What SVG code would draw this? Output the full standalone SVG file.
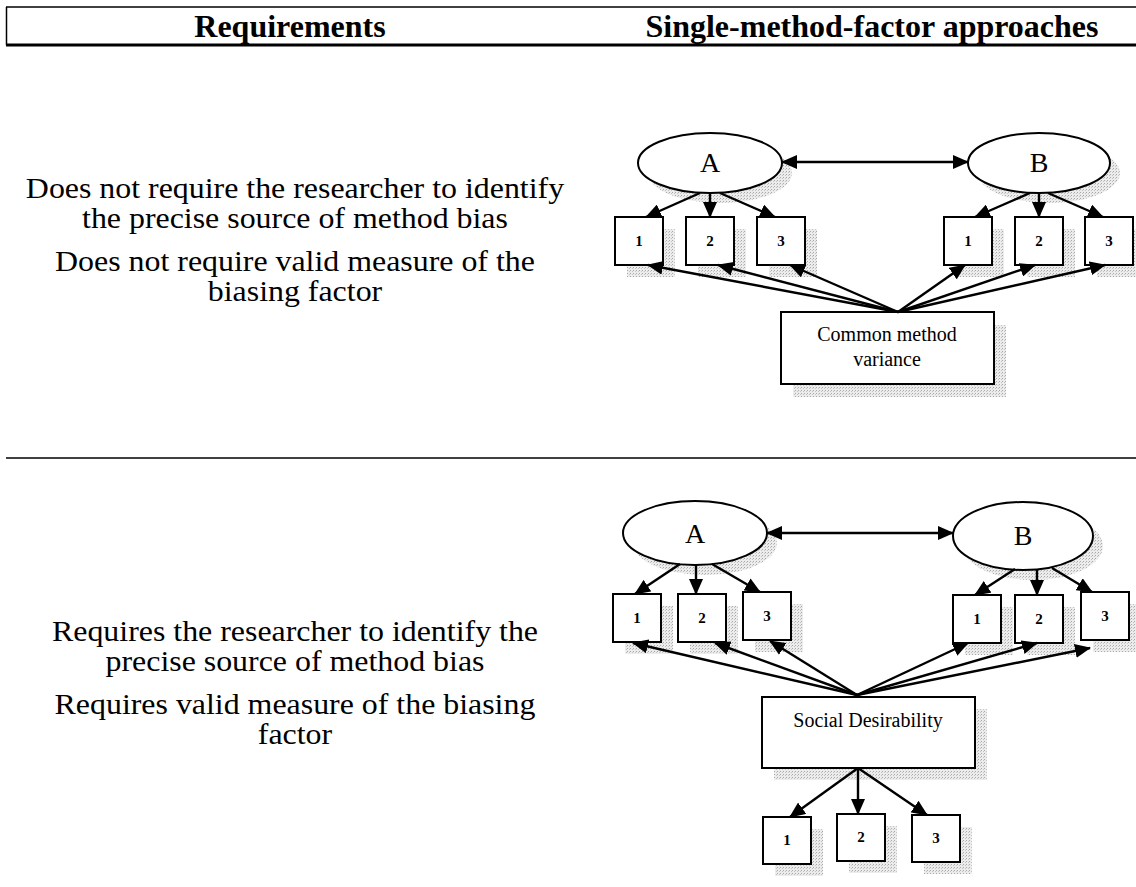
<svg xmlns="http://www.w3.org/2000/svg" width="1136" height="887" viewBox="0 0 1136 887">
  <defs>
    <!-- stippled grey used for drop shadows -->
    <pattern id="stipple" width="3" height="3" patternUnits="userSpaceOnUse">
      <rect width="3" height="3" fill="#ececec"/>
      <rect x="0" y="0" width="1" height="1" fill="#a8a8a8"/>
      <rect x="2" y="1" width="1" height="1" fill="#c4c4c4"/>
    </pattern>
    <marker id="ah" markerUnits="userSpaceOnUse" markerWidth="16" markerHeight="14" refX="15" refY="7" orient="auto-start-reverse">
      <path d="M0,0 L16,7 L0,14 z" fill="#000"/>
    </marker>
  </defs>
  <style>
    .shadow { fill: url(#stipple); }
    .node rect, .node ellipse { fill: #fff; stroke: #000; stroke-width: 2; }
    .conn line { stroke: #000; stroke-width: 2.4; marker-end: url(#ah); }
    .conn line.both { marker-start: url(#ah); }
    .hdr { font-family: "Liberation Serif", "Times New Roman", serif; font-weight: bold; font-size: 32px; text-anchor: middle; }
    .body { font-family: "Liberation Serif", "Times New Roman", serif; font-size: 29px; text-anchor: middle; }
    .latent { font-family: "Liberation Serif", "Times New Roman", serif; font-size: 28px; text-anchor: middle; }
    .num { font-family: "Liberation Serif", "Times New Roman", serif; font-size: 15px; font-weight: bold; text-anchor: middle; }
    .lbl { font-family: "Liberation Serif", "Times New Roman", serif; font-size: 20px; text-anchor: middle; }
  </style>

  <rect width="1136" height="887" fill="#fff"/>

  <!-- table header and row rule -->
  <g id="table">
    <line x1="6" y1="7" x2="1136" y2="7" stroke="#000" stroke-width="1.5"/>
    <line x1="6" y1="45" x2="1136" y2="45" stroke="#000" stroke-width="3"/>
    <line x1="6.5" y1="7" x2="6.5" y2="45" stroke="#000" stroke-width="1.5"/>
    <line x1="6" y1="458" x2="1136" y2="458" stroke="#000" stroke-width="1.5"/>
    <text class="hdr" x="290" y="37">Requirements</text>
    <text class="hdr" x="872" y="37">Single-method-factor approaches</text>
  </g>

  <!-- requirement statements (slightly wide-set serif, centred on x=295) -->
  <g id="req-top" transform="matrix(1.1 0 0 1 -29.5 0)">
    <text class="body" x="295" y="198">Does not require the researcher to identify</text>
    <text class="body" x="295" y="228">the precise source of method bias</text>
    <text class="body" x="295" y="271">Does not require valid measure of the</text>
    <text class="body" x="295" y="301">biasing factor</text>
  </g>
  <g id="req-bottom" transform="matrix(1.1 0 0 1 -29.5 0)">
    <text class="body" x="295" y="641">Requires the researcher to identify the</text>
    <text class="body" x="295" y="671">precise source of method bias</text>
    <text class="body" x="295" y="714">Requires valid measure of the biasing</text>
    <text class="body" x="295" y="744">factor</text>
  </g>

  <!-- drop shadows -->
  <g id="shadows">
    <ellipse class="shadow" cx="720" cy="173" rx="72" ry="30"/>
    <ellipse class="shadow" cx="1049" cy="173" rx="71" ry="30"/>
    <rect class="shadow" x="627" y="229" width="48" height="48"/>
    <rect class="shadow" x="698" y="229" width="48" height="48"/>
    <rect class="shadow" x="769" y="229" width="48" height="48"/>
    <rect class="shadow" x="956" y="229" width="48" height="48"/>
    <rect class="shadow" x="1027" y="229" width="48" height="48"/>
    <rect class="shadow" x="1097" y="229" width="48" height="48"/>
    <rect class="shadow" x="793" y="325" width="213" height="72"/>
    <ellipse class="shadow" cx="705" cy="543" rx="72" ry="32"/>
    <ellipse class="shadow" cx="1033" cy="546" rx="70" ry="34"/>
    <rect class="shadow" x="625" y="606" width="48" height="48"/>
    <rect class="shadow" x="690" y="606" width="48" height="48"/>
    <rect class="shadow" x="755" y="604" width="48" height="48"/>
    <rect class="shadow" x="965" y="607" width="48" height="48"/>
    <rect class="shadow" x="1027" y="607" width="48" height="48"/>
    <rect class="shadow" x="1093" y="604" width="48" height="48"/>
    <rect class="shadow" x="774" y="709" width="213" height="71"/>
    <rect class="shadow" x="775" y="829" width="48" height="47"/>
    <rect class="shadow" x="849" y="826" width="48" height="47"/>
    <rect class="shadow" x="924" y="827" width="48" height="47"/>
  </g>

  <!-- upper model: common method variance -->
  <g id="cmv-A" class="node"><ellipse cx="710" cy="163" rx="72" ry="30"/><text class="latent" x="710" y="172">A</text></g>
  <g id="cmv-B" class="node"><ellipse cx="1039" cy="163" rx="71" ry="30"/><text class="latent" x="1039" y="172">B</text></g>
  <g id="cmv-a1" class="node"><rect x="615" y="217" width="48" height="48"/><text class="num" x="639" y="246">1</text></g>
  <g id="cmv-a2" class="node"><rect x="686" y="217" width="48" height="48"/><text class="num" x="710" y="246">2</text></g>
  <g id="cmv-a3" class="node"><rect x="757" y="217" width="48" height="48"/><text class="num" x="781" y="246">3</text></g>
  <g id="cmv-b1" class="node"><rect x="944" y="217" width="48" height="48"/><text class="num" x="968" y="246">1</text></g>
  <g id="cmv-b2" class="node"><rect x="1015" y="217" width="48" height="48"/><text class="num" x="1039" y="246">2</text></g>
  <g id="cmv-b3" class="node"><rect x="1085" y="217" width="48" height="48"/><text class="num" x="1109" y="246">3</text></g>
  <g id="cmv-method" class="node"><rect x="781" y="312" width="213" height="72"/><text class="lbl" x="887" y="341">Common method</text><text class="lbl" x="887" y="366">variance</text></g>

  <!-- lower model: social desirability -->
  <g id="sd-A" class="node"><ellipse cx="695" cy="533" rx="72" ry="32"/><text class="latent" x="695" y="543">A</text></g>
  <g id="sd-B" class="node"><ellipse cx="1023" cy="536" rx="70" ry="34"/><text class="latent" x="1023" y="545">B</text></g>
  <g id="sd-a1" class="node"><rect x="613" y="594" width="48" height="48"/><text class="num" x="637" y="623">1</text></g>
  <g id="sd-a2" class="node"><rect x="678" y="594" width="48" height="48"/><text class="num" x="702" y="623">2</text></g>
  <g id="sd-a3" class="node"><rect x="743" y="592" width="48" height="48"/><text class="num" x="767" y="621">3</text></g>
  <g id="sd-b1" class="node"><rect x="953" y="595" width="48" height="48"/><text class="num" x="977" y="624">1</text></g>
  <g id="sd-b2" class="node"><rect x="1015" y="595" width="48" height="48"/><text class="num" x="1039" y="624">2</text></g>
  <g id="sd-b3" class="node"><rect x="1081" y="592" width="48" height="48"/><text class="num" x="1105" y="621">3</text></g>
  <g id="sd-method" class="node"><rect x="762" y="697" width="213" height="71"/><text class="lbl" x="868" y="727">Social Desirability</text></g>
  <g id="sd-m1" class="node"><rect x="763" y="817" width="48" height="47"/><text class="num" x="787" y="845">1</text></g>
  <g id="sd-m2" class="node"><rect x="837" y="814" width="48" height="47"/><text class="num" x="861" y="842">2</text></g>
  <g id="sd-m3" class="node"><rect x="912" y="815" width="48" height="47"/><text class="num" x="936" y="843">3</text></g>

  <!-- paths -->
  <g id="connectors" class="conn">
    <line class="both" x1="782" y1="162" x2="968" y2="162"/>
    <line x1="700" y1="193" x2="646" y2="217"/>
    <line x1="710" y1="193" x2="710" y2="217"/>
    <line x1="720" y1="193" x2="775" y2="217"/>
    <line x1="1030" y1="193" x2="975" y2="217"/>
    <line x1="1039" y1="193" x2="1039" y2="217"/>
    <line x1="1048" y1="193" x2="1103" y2="217"/>
    <line x1="898" y1="312" x2="648" y2="265"/>
    <line x1="898" y1="312" x2="718" y2="265"/>
    <line x1="898" y1="312" x2="790" y2="265"/>
    <line x1="898" y1="312" x2="965" y2="265"/>
    <line x1="898" y1="312" x2="1035" y2="265"/>
    <line x1="898" y1="312" x2="1105" y2="265"/>

    <line class="both" x1="767" y1="533" x2="953" y2="533"/>
    <line x1="680" y1="564" x2="635" y2="594"/>
    <line x1="696" y1="565" x2="696" y2="594"/>
    <line x1="712" y1="564" x2="760" y2="592"/>
    <line x1="1015" y1="569" x2="975" y2="595"/>
    <line x1="1037" y1="570" x2="1037" y2="595"/>
    <line x1="1052" y1="568" x2="1092" y2="592"/>
    <line x1="857" y1="695" x2="633" y2="643"/>
    <line x1="857" y1="695" x2="715" y2="643"/>
    <line x1="857" y1="695" x2="770" y2="641"/>
    <line x1="857" y1="695" x2="968" y2="643"/>
    <line x1="857" y1="695" x2="1037" y2="643"/>
    <line x1="857" y1="695" x2="1090" y2="648"/>
    <line x1="858" y1="768" x2="790" y2="817"/>
    <line x1="858" y1="768" x2="858" y2="814"/>
    <line x1="858" y1="768" x2="927" y2="815"/>
  </g>
</svg>
